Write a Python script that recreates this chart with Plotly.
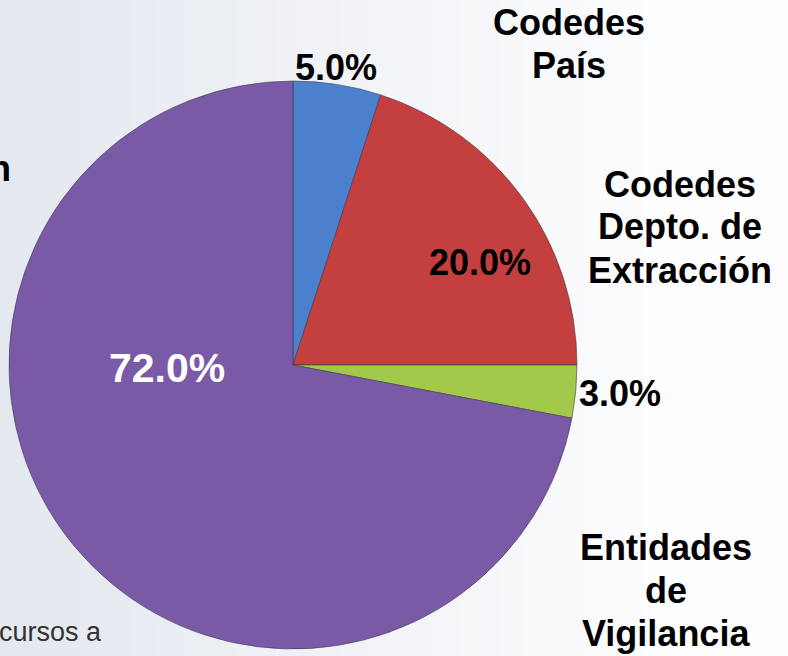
import plotly.graph_objects as go

# ---- data ----
categories = ["Codedes País", "Codedes Depto. de Extracción", "Entidades de Vigilancia del Área", "Resto"]
values = [5.0, 20.0, 3.0, 72.0]
slice_colors = ["#4A80CC", "#C4403E", "#A3C94A", "#7A5AA6"]

W, H = 788, 656
total = sum(values)
pct_text = [f"{v / total * 100:.1f}%" for v in values]

fig = go.Figure()
fig.add_trace(go.Pie(
    labels=categories,
    values=values,
    sort=False,
    direction="clockwise",
    rotation=0,
    textinfo="none",
    hoverinfo="label+percent",
    marker=dict(colors=slice_colors, line=dict(color="rgba(60,50,80,0.55)", width=1)),
    domain=dict(x=[9 / W, 577 / W], y=[7 / H, 575 / H]),
    showlegend=False,
))

# background gradient (left bluish grey -> right white)
shapes = []
n = 60
def lerp(a, b, t):
    return int(round(a + (b - a) * t))
c0 = (0xE4, 0xE8, 0xEF)
c1 = (0xFD, 0xFD, 0xFE)
for i in range(n):
    t = i / (n - 1)
    tt = min(1.0, t / 0.85)
    col = "rgb({},{},{})".format(*(lerp(c0[k], c1[k], tt) for k in range(3)))
    shapes.append(dict(type="rect", xref="paper", yref="paper", layer="below",
                       x0=i / n, x1=(i + 1) / n + 0.002, y0=0, y1=1,
                       line=dict(width=0), fillcolor=col))

annotations = []
FONT = "Liberation Sans, Arial, sans-serif"

def add_text(text, px, py, size=36, color="#000000", bold=True, xanchor="center"):
    t = f"<b>{text}</b>" if bold else text
    annotations.append(dict(text=t, x=px / W, y=1 - py / H, xref="paper", yref="paper",
                            xanchor=xanchor, yanchor="middle", showarrow=False,
                            font=dict(family=FONT, size=size, color=color)))

LINE = 43
def add_label(lines, px, py0):
    for j, ln in enumerate(lines):
        add_text(ln, px, py0 + j * LINE)

# category labels
add_label(["Codedes", "País"], 569, 22)
add_label(["Codedes", "Depto. de", "Extracción"], 680, 184)
add_label(["Entidades", "de", "Vigilancia", "del Área"], 666, 547)

# percentage labels
add_text(pct_text[0], 336, 68)
add_text(pct_text[1], 480, 262)
add_text(pct_text[2], 620, 393)
add_text(pct_text[3], 167, 368, size=41, color="#FFFFFF")

# slide text fragments at the left edge
add_text("n", 13, 168, xanchor="right")
add_text("cursos&nbsp;a", -3, 632, size=27, color="#333333", bold=False, xanchor="left")

fig.update_layout(
    width=W, height=H,
    margin=dict(l=0, r=0, t=0, b=0),
    paper_bgcolor="#F2F4F7",
    plot_bgcolor="#F2F4F7",
    shapes=shapes,
    annotations=annotations,
)

fig.write_html("out.html", config={"displayModeBar": False},
               post_script="document.body.style.margin='0';document.body.style.overflow='hidden';")
